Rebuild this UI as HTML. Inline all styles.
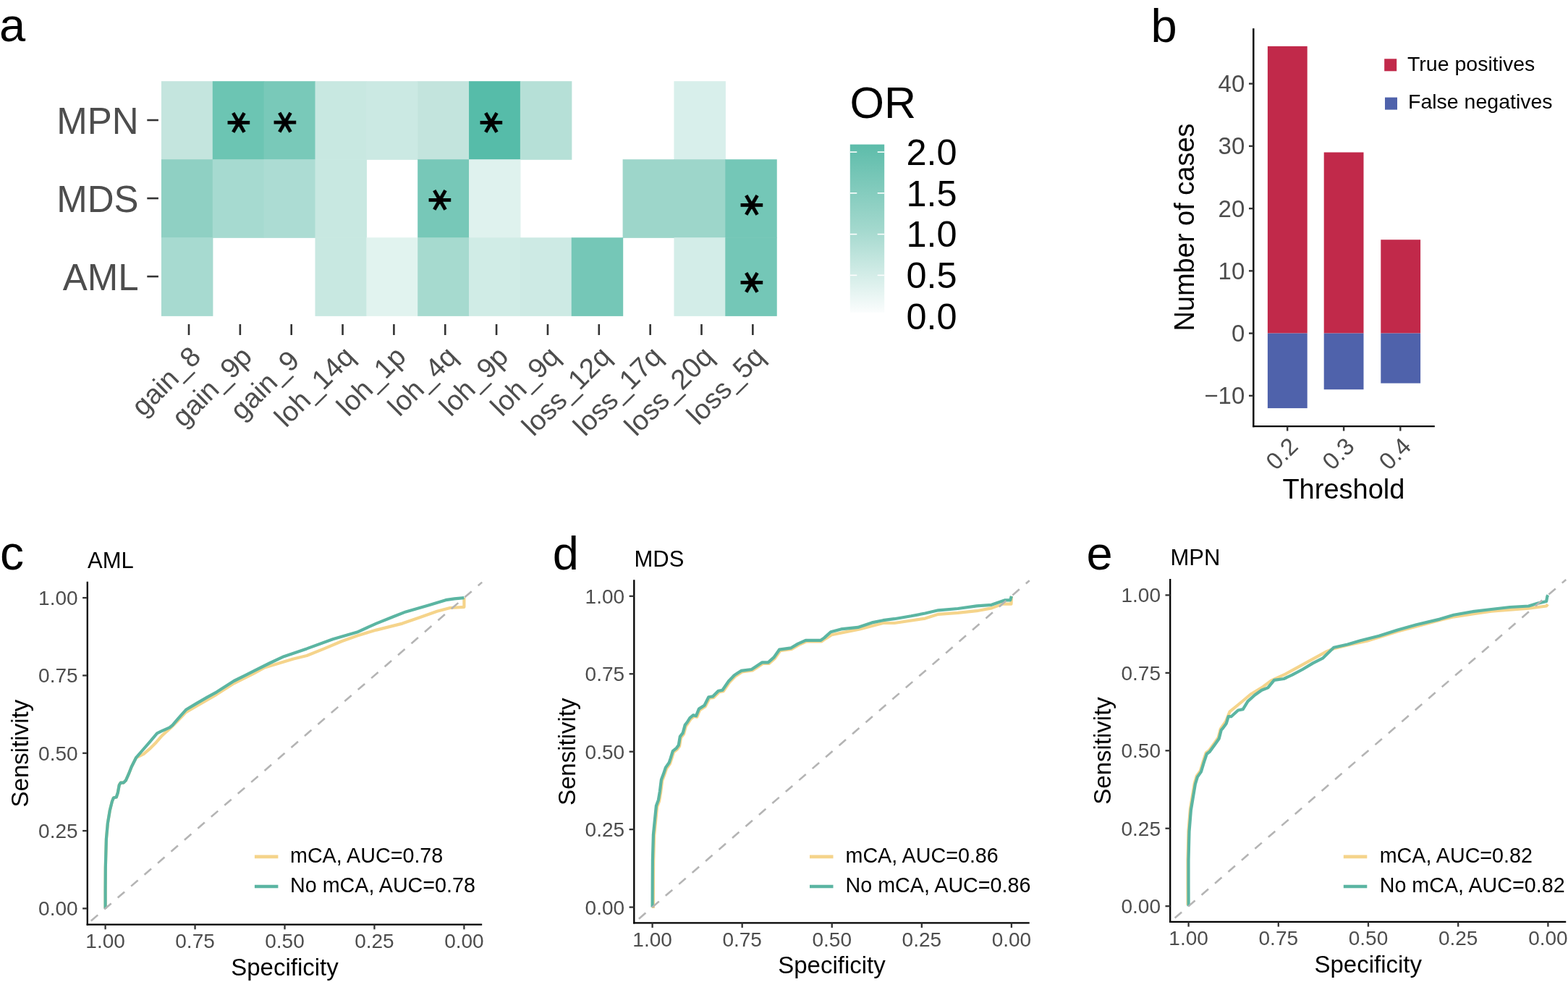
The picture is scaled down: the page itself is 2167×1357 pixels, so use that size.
<!DOCTYPE html>
<html><head><meta charset="utf-8"><title>Figure</title>
<style>html,body{margin:0;padding:0;background:#fff;} svg{display:block;}</style>
</head><body>
<svg width="2167" height="1357" viewBox="0 0 2167 1357" font-family='"Liberation Sans", Arial, Helvetica, sans-serif'><text x="-1.00" y="57.20" font-size="65" fill="#000" text-anchor="start" >a</text>
<rect x="222.95" y="112.20" width="71.45" height="108.63" fill="#c4e5de" />
<rect x="293.80" y="112.20" width="71.45" height="108.63" fill="#6cc5b3" />
<rect x="364.65" y="112.20" width="71.45" height="108.63" fill="#79c9b9" />
<rect x="435.50" y="112.20" width="71.45" height="108.63" fill="#c8e8e1" />
<rect x="506.35" y="112.20" width="71.45" height="108.63" fill="#cbe9e3" />
<rect x="577.20" y="112.20" width="71.45" height="108.63" fill="#c3e4dd" />
<rect x="648.05" y="112.20" width="71.45" height="108.63" fill="#56bca9" />
<rect x="718.90" y="112.20" width="71.45" height="108.63" fill="#b6e0d7" />
<rect x="931.45" y="112.20" width="71.45" height="108.63" fill="#d8efeb" />
<rect x="222.95" y="220.23" width="71.45" height="108.63" fill="#8fd0c3" />
<rect x="293.80" y="220.23" width="71.45" height="108.63" fill="#a6dad0" />
<rect x="364.65" y="220.23" width="71.45" height="108.63" fill="#acdcd3" />
<rect x="435.50" y="220.23" width="71.45" height="108.63" fill="#c8e8e1" />
<rect x="577.20" y="220.23" width="71.45" height="108.63" fill="#77c8b8" />
<rect x="648.05" y="220.23" width="71.45" height="108.63" fill="#dff2ee" />
<rect x="860.60" y="220.23" width="71.45" height="108.63" fill="#9dd6ca" />
<rect x="931.45" y="220.23" width="71.45" height="108.63" fill="#9dd6ca" />
<rect x="1002.30" y="220.23" width="71.45" height="108.63" fill="#74c7b7" />
<rect x="222.95" y="328.26" width="71.45" height="108.63" fill="#a7dad0" />
<rect x="435.50" y="328.26" width="71.45" height="108.63" fill="#c8e8e1" />
<rect x="506.35" y="328.26" width="71.45" height="108.63" fill="#e1f3ef" />
<rect x="577.20" y="328.26" width="71.45" height="108.63" fill="#a6dacf" />
<rect x="648.05" y="328.26" width="71.45" height="108.63" fill="#d0ece6" />
<rect x="718.90" y="328.26" width="71.45" height="108.63" fill="#cdeae4" />
<rect x="789.75" y="328.26" width="71.45" height="108.63" fill="#75c7b7" />
<rect x="931.45" y="328.26" width="71.45" height="108.63" fill="#d3ede8" />
<rect x="1002.30" y="328.26" width="71.45" height="108.63" fill="#74c7b7" />
<text x="0" y="0" font-family="DejaVu Sans" font-size="47.5" fill="#000" stroke="#000" stroke-width="0.9" stroke-linejoin="miter" text-anchor="middle" transform="translate(314.80,169.40) rotate(90)">&#8727;</text>
<text x="0" y="0" font-family="DejaVu Sans" font-size="47.5" fill="#000" stroke="#000" stroke-width="0.9" stroke-linejoin="miter" text-anchor="middle" transform="translate(379.30,169.20) rotate(90)">&#8727;</text>
<text x="0" y="0" font-family="DejaVu Sans" font-size="47.5" fill="#000" stroke="#000" stroke-width="0.9" stroke-linejoin="miter" text-anchor="middle" transform="translate(664.30,169.50) rotate(90)">&#8727;</text>
<text x="0" y="0" font-family="DejaVu Sans" font-size="47.5" fill="#000" stroke="#000" stroke-width="0.9" stroke-linejoin="miter" text-anchor="middle" transform="translate(593.40,276.30) rotate(90)">&#8727;</text>
<text x="0" y="0" font-family="DejaVu Sans" font-size="47.5" fill="#000" stroke="#000" stroke-width="0.9" stroke-linejoin="miter" text-anchor="middle" transform="translate(1023.70,283.50) rotate(90)">&#8727;</text>
<text x="0" y="0" font-family="DejaVu Sans" font-size="47.5" fill="#000" stroke="#000" stroke-width="0.9" stroke-linejoin="miter" text-anchor="middle" transform="translate(1023.70,390.40) rotate(90)">&#8727;</text>
<text x="191.50" y="184.71" font-size="51" fill="#4d4d4d" text-anchor="end" >MPN</text>
<line x1="203.30" y1="166.01" x2="218.90" y2="166.01" stroke="#333333" stroke-width="2.6" />
<text x="191.50" y="292.75" font-size="51" fill="#4d4d4d" text-anchor="end" >MDS</text>
<line x1="203.30" y1="274.05" x2="218.90" y2="274.05" stroke="#333333" stroke-width="2.6" />
<text x="191.50" y="400.77" font-size="51" fill="#4d4d4d" text-anchor="end" >AML</text>
<line x1="203.30" y1="382.07" x2="218.90" y2="382.07" stroke="#333333" stroke-width="2.6" />
<line x1="261.00" y1="448.00" x2="261.00" y2="463.00" stroke="#333333" stroke-width="2.6" />
<text x="0" y="0" font-size="38.6" fill="#4d4d4d" text-anchor="end" transform="translate(279.70,495.0) rotate(-45)">gain_8</text>
<line x1="331.85" y1="448.00" x2="331.85" y2="463.00" stroke="#333333" stroke-width="2.6" />
<text x="0" y="0" font-size="38.6" fill="#4d4d4d" text-anchor="end" transform="translate(350.55,495.0) rotate(-45)">gain_9p</text>
<line x1="402.70" y1="448.00" x2="402.70" y2="463.00" stroke="#333333" stroke-width="2.6" />
<text x="0" y="0" font-size="38.6" fill="#4d4d4d" text-anchor="end" transform="translate(415.90,500.5) rotate(-45)">gain_9</text>
<line x1="473.55" y1="448.00" x2="473.55" y2="463.00" stroke="#333333" stroke-width="2.6" />
<text x="0" y="0" font-size="38.6" fill="#4d4d4d" text-anchor="end" transform="translate(492.25,495.0) rotate(-45)">loh_14q</text>
<line x1="544.40" y1="448.00" x2="544.40" y2="463.00" stroke="#333333" stroke-width="2.6" />
<text x="0" y="0" font-size="38.6" fill="#4d4d4d" text-anchor="end" transform="translate(563.10,495.0) rotate(-45)">loh_1p</text>
<line x1="615.25" y1="448.00" x2="615.25" y2="463.00" stroke="#333333" stroke-width="2.6" />
<text x="0" y="0" font-size="38.6" fill="#4d4d4d" text-anchor="end" transform="translate(633.95,495.0) rotate(-45)">loh_4q</text>
<line x1="686.10" y1="448.00" x2="686.10" y2="463.00" stroke="#333333" stroke-width="2.6" />
<text x="0" y="0" font-size="38.6" fill="#4d4d4d" text-anchor="end" transform="translate(704.80,495.0) rotate(-45)">loh_9p</text>
<line x1="756.95" y1="448.00" x2="756.95" y2="463.00" stroke="#333333" stroke-width="2.6" />
<text x="0" y="0" font-size="38.6" fill="#4d4d4d" text-anchor="end" transform="translate(775.65,495.0) rotate(-45)">loh_9q</text>
<line x1="827.80" y1="448.00" x2="827.80" y2="463.00" stroke="#333333" stroke-width="2.6" />
<text x="0" y="0" font-size="38.6" fill="#4d4d4d" text-anchor="end" transform="translate(846.50,495.0) rotate(-45)">loss_12q</text>
<line x1="898.65" y1="448.00" x2="898.65" y2="463.00" stroke="#333333" stroke-width="2.6" />
<text x="0" y="0" font-size="38.6" fill="#4d4d4d" text-anchor="end" transform="translate(917.35,495.0) rotate(-45)">loss_17q</text>
<line x1="969.50" y1="448.00" x2="969.50" y2="463.00" stroke="#333333" stroke-width="2.6" />
<text x="0" y="0" font-size="38.6" fill="#4d4d4d" text-anchor="end" transform="translate(988.20,495.0) rotate(-45)">loss_20q</text>
<line x1="1040.35" y1="448.00" x2="1040.35" y2="463.00" stroke="#333333" stroke-width="2.6" />
<text x="0" y="0" font-size="38.6" fill="#4d4d4d" text-anchor="end" transform="translate(1059.05,495.0) rotate(-45)">loss_5q</text>
<text x="1174.50" y="162.60" font-size="61" fill="#000" text-anchor="start" >OR</text>
<defs><linearGradient id="cb" x1="0" y1="0" x2="0" y2="1"><stop offset="0" stop-color="#5dbcaa"/><stop offset="0.5" stop-color="#a2d8cd"/><stop offset="1" stop-color="#fbfdfd"/></linearGradient></defs>
<rect x="1174.80" y="199.60" width="47.40" height="232.40" fill="url(#cb)" />
<line x1="1174.80" y1="210.10" x2="1184.30" y2="210.10" stroke="#ffffff" stroke-width="1.6" />
<line x1="1212.70" y1="210.10" x2="1222.20" y2="210.10" stroke="#ffffff" stroke-width="1.6" />
<text x="1252.40" y="227.80" font-size="50.5" fill="#000" text-anchor="start" >2.0</text>
<line x1="1174.80" y1="266.87" x2="1184.30" y2="266.87" stroke="#ffffff" stroke-width="1.6" />
<line x1="1212.70" y1="266.87" x2="1222.20" y2="266.87" stroke="#ffffff" stroke-width="1.6" />
<text x="1252.40" y="284.57" font-size="50.5" fill="#000" text-anchor="start" >1.5</text>
<line x1="1174.80" y1="323.64" x2="1184.30" y2="323.64" stroke="#ffffff" stroke-width="1.6" />
<line x1="1212.70" y1="323.64" x2="1222.20" y2="323.64" stroke="#ffffff" stroke-width="1.6" />
<text x="1252.40" y="341.34" font-size="50.5" fill="#000" text-anchor="start" >1.0</text>
<line x1="1174.80" y1="380.41" x2="1184.30" y2="380.41" stroke="#ffffff" stroke-width="1.6" />
<line x1="1212.70" y1="380.41" x2="1222.20" y2="380.41" stroke="#ffffff" stroke-width="1.6" />
<text x="1252.40" y="398.11" font-size="50.5" fill="#000" text-anchor="start" >0.5</text>
<text x="1252.40" y="454.88" font-size="50.5" fill="#000" text-anchor="start" >0.0</text>
<text x="1590.60" y="57.50" font-size="65" fill="#000" text-anchor="start" >b</text>
<rect x="1751.90" y="63.90" width="54.80" height="396.70" fill="#c1294a" />
<rect x="1751.90" y="460.60" width="54.80" height="103.49" fill="#4f62ab" />
<rect x="1829.70" y="210.50" width="54.80" height="250.10" fill="#c1294a" />
<rect x="1829.70" y="460.60" width="54.80" height="77.62" fill="#4f62ab" />
<rect x="1908.30" y="331.24" width="54.80" height="129.36" fill="#c1294a" />
<rect x="1908.30" y="460.60" width="54.80" height="68.99" fill="#4f62ab" />
<line x1="1732.30" y1="39.30" x2="1732.30" y2="590.20" stroke="#000" stroke-width="2.4" />
<line x1="1731.10" y1="589.10" x2="1982.80" y2="589.10" stroke="#000" stroke-width="2.4" />
<line x1="1726.00" y1="115.64" x2="1732.30" y2="115.64" stroke="#333333" stroke-width="2.4" />
<text x="1720.30" y="127.24" font-size="33" fill="#4d4d4d" text-anchor="end" >40</text>
<line x1="1726.00" y1="201.88" x2="1732.30" y2="201.88" stroke="#333333" stroke-width="2.4" />
<text x="1720.30" y="213.48" font-size="33" fill="#4d4d4d" text-anchor="end" >30</text>
<line x1="1726.00" y1="288.12" x2="1732.30" y2="288.12" stroke="#333333" stroke-width="2.4" />
<text x="1720.30" y="299.72" font-size="33" fill="#4d4d4d" text-anchor="end" >20</text>
<line x1="1726.00" y1="374.36" x2="1732.30" y2="374.36" stroke="#333333" stroke-width="2.4" />
<text x="1720.30" y="385.96" font-size="33" fill="#4d4d4d" text-anchor="end" >10</text>
<line x1="1726.00" y1="460.60" x2="1732.30" y2="460.60" stroke="#333333" stroke-width="2.4" />
<text x="1720.30" y="472.20" font-size="33" fill="#4d4d4d" text-anchor="end" >0</text>
<line x1="1726.00" y1="546.84" x2="1732.30" y2="546.84" stroke="#333333" stroke-width="2.4" />
<text x="1720.30" y="558.44" font-size="33" fill="#4d4d4d" text-anchor="end" >&#8722;10</text>
<line x1="1779.20" y1="589.10" x2="1779.20" y2="595.50" stroke="#333333" stroke-width="2.4" />
<text x="0" y="0" font-size="33" fill="#4d4d4d" text-anchor="end" transform="translate(1779.00,602) rotate(-45)" dy="0.72em">0.2</text>
<line x1="1857.10" y1="589.10" x2="1857.10" y2="595.50" stroke="#333333" stroke-width="2.4" />
<text x="0" y="0" font-size="33" fill="#4d4d4d" text-anchor="end" transform="translate(1856.90,602) rotate(-45)" dy="0.72em">0.3</text>
<line x1="1935.30" y1="589.10" x2="1935.30" y2="595.50" stroke="#333333" stroke-width="2.4" />
<text x="0" y="0" font-size="33" fill="#4d4d4d" text-anchor="end" transform="translate(1935.10,602) rotate(-45)" dy="0.72em">0.4</text>
<text x="1856.90" y="689.00" font-size="38" fill="#000" text-anchor="middle" >Threshold</text>
<text x="0" y="0" font-size="38" fill="#000" text-anchor="middle" transform="translate(1649.6,314) rotate(-90)">Number of cases</text>
<rect x="1913.20" y="81.30" width="17.00" height="17.00" fill="#c1294a" />
<rect x="1914.00" y="134.60" width="17.00" height="17.00" fill="#4f62ab" />
<text x="1945.00" y="97.50" font-size="28.5" fill="#000" text-anchor="start" >True positives</text>
<text x="1946.00" y="150.30" font-size="28.5" fill="#000" text-anchor="start" >False negatives</text>
<text x="-0.10" y="787.20" font-size="66" fill="#000" text-anchor="start" >c</text>
<text x="121.00" y="785.00" font-size="31" fill="#000" text-anchor="start" >AML</text>
<path d="M145.6,1255.4 L145.6,1230.0 L145.8,1199.0 L146.9,1159.2 L148.9,1137.3 L151.9,1119.4 L154.9,1107.5 L156.9,1102.5 L160.8,1101.5 L162.8,1095.5 L164.8,1084.6 L166.8,1081.6 L170.8,1081.6 L173.8,1078.6 L177.8,1069.7 L181.7,1059.7 L188.0,1047.2 L198.6,1041.9 L206.5,1035.2 L214.5,1027.3 L223.8,1016.6 L235.7,1006.0 L246.3,995.4 L257.0,984.1 L272.9,974.9 L299.4,959.6 L323.3,944.3 L349.8,931.1 L365.7,922.5 L385.6,916.5 L405.5,910.5 L424.0,906.0 L448.0,896.4 L472.0,886.2 L493.6,878.4 L520.0,870.6 L556.0,861.6 L580.0,853.2 L604.0,844.8 L622.0,840.0 L641.4,838.8 L641.4,826.1" fill="none" stroke="#f5d48b" stroke-width="4.2" stroke-linejoin="round"/>
<path d="M145.6,1255.4 L145.6,1230.0 L145.8,1199.0 L146.9,1159.2 L148.9,1137.3 L151.9,1119.4 L154.9,1107.5 L156.9,1102.5 L160.8,1101.5 L162.8,1095.5 L164.8,1084.6 L166.8,1081.6 L170.8,1081.6 L173.8,1078.6 L177.8,1069.7 L181.7,1059.7 L188.0,1047.2 L197.2,1036.5 L206.5,1025.9 L217.1,1013.3 L222.5,1010.7 L234.4,1005.4 L238.4,1002.1 L246.3,992.8 L257.0,980.8 L270.2,972.9 L286.1,963.6 L299.4,956.3 L323.3,941.0 L339.2,933.1 L352.5,926.4 L372.4,916.5 L392.3,907.2 L424.0,896.4 L460.0,883.2 L493.6,873.6 L520.0,861.6 L544.0,852.0 L560.8,845.4 L592.0,836.4 L616.0,829.2 L628.0,827.4 L641.4,826.1" fill="none" stroke="#5bb5a2" stroke-width="4.2" stroke-linejoin="round"/>
<line x1="120.81" y1="1276.87" x2="666.19" y2="804.63" stroke="#b4b4b4" stroke-width="2.6" stroke-dasharray="12.5 11.9" stroke-dashoffset="17.8"/>
<line x1="120.80" y1="803.63" x2="120.80" y2="1278.70" stroke="#000" stroke-width="2.3" />
<line x1="119.70" y1="1277.60" x2="666.19" y2="1277.60" stroke="#000" stroke-width="2.3" />
<line x1="114.10" y1="1255.40" x2="120.80" y2="1255.40" stroke="#333333" stroke-width="2.3" />
<text x="107.60" y="1265.40" font-size="28" fill="#4d4d4d" text-anchor="end" >0.00</text>
<line x1="641.40" y1="1277.60" x2="641.40" y2="1284.30" stroke="#333333" stroke-width="2.3" />
<text x="641.40" y="1309.90" font-size="28" fill="#4d4d4d" text-anchor="middle" >0.00</text>
<line x1="114.10" y1="1148.08" x2="120.80" y2="1148.08" stroke="#333333" stroke-width="2.3" />
<text x="107.60" y="1158.08" font-size="28" fill="#4d4d4d" text-anchor="end" >0.25</text>
<line x1="517.45" y1="1277.60" x2="517.45" y2="1284.30" stroke="#333333" stroke-width="2.3" />
<text x="517.45" y="1309.90" font-size="28" fill="#4d4d4d" text-anchor="middle" >0.25</text>
<line x1="114.10" y1="1040.75" x2="120.80" y2="1040.75" stroke="#333333" stroke-width="2.3" />
<text x="107.60" y="1050.75" font-size="28" fill="#4d4d4d" text-anchor="end" >0.50</text>
<line x1="393.50" y1="1277.60" x2="393.50" y2="1284.30" stroke="#333333" stroke-width="2.3" />
<text x="393.50" y="1309.90" font-size="28" fill="#4d4d4d" text-anchor="middle" >0.50</text>
<line x1="114.10" y1="933.43" x2="120.80" y2="933.43" stroke="#333333" stroke-width="2.3" />
<text x="107.60" y="943.43" font-size="28" fill="#4d4d4d" text-anchor="end" >0.75</text>
<line x1="269.55" y1="1277.60" x2="269.55" y2="1284.30" stroke="#333333" stroke-width="2.3" />
<text x="269.55" y="1309.90" font-size="28" fill="#4d4d4d" text-anchor="middle" >0.75</text>
<line x1="114.10" y1="826.10" x2="120.80" y2="826.10" stroke="#333333" stroke-width="2.3" />
<text x="107.60" y="836.10" font-size="28" fill="#4d4d4d" text-anchor="end" >1.00</text>
<line x1="145.60" y1="1277.60" x2="145.60" y2="1284.30" stroke="#333333" stroke-width="2.3" />
<text x="145.60" y="1309.90" font-size="28" fill="#4d4d4d" text-anchor="middle" >1.00</text>
<text x="393.49" y="1347.60" font-size="33" fill="#000" text-anchor="middle" >Specificity</text>
<text x="0" y="0" font-size="33" fill="#000" text-anchor="middle" transform="translate(39.0,1041.1174999999998) rotate(-90)">Sensitivity</text>
<line x1="351.90" y1="1183.90" x2="384.40" y2="1183.90" stroke="#f5d48b" stroke-width="4.6" />
<line x1="351.90" y1="1225.00" x2="384.40" y2="1225.00" stroke="#5bb5a2" stroke-width="4.6" />
<text x="401.00" y="1192.00" font-size="28.7" fill="#000" text-anchor="start" >mCA, AUC=0.78</text>
<text x="401.00" y="1232.60" font-size="28.7" fill="#000" text-anchor="start" >No mCA, AUC=0.78</text>
<text x="763.70" y="787.00" font-size="65" fill="#000" text-anchor="start" >d</text>
<text x="876.50" y="782.70" font-size="31" fill="#000" text-anchor="start" >MDS</text>
<path d="M902.8,1255.1 L902.9,1221.5 L903.1,1190.5 L904.1,1154.7 L906.1,1134.8 L908.1,1114.9 L911.1,1106.9 L913.1,1095.0 L915.1,1079.1 L918.1,1071.1 L921.1,1062.1 L926.0,1055.2 L928.0,1049.2 L931.0,1039.3 L936.0,1035.3 L939.0,1031.3 L941.0,1019.4 L944.9,1014.4 L947.9,1003.4 L950.9,999.5 L954.6,993.6 L959.4,989.7 L963.2,990.7 L967.1,981.1 L974.7,976.3 L980.5,964.8 L986.2,963.9 L993.9,956.2 L999.6,955.3 L1008.2,942.8 L1015.9,934.7 L1025.5,928.4 L1039.9,926.5 L1045.6,922.7 L1054.2,916.9 L1062.8,916.9 L1070.5,910.2 L1078.2,899.2 L1094.5,896.8 L1104.0,891.1 L1114.6,886.3 L1135.6,886.3 L1140.4,882.9 L1149.4,877.2 L1188.1,869.4 L1220.5,861.0 L1236.0,861.0 L1278.6,854.6 L1296.7,848.8 L1323.8,846.8 L1349.7,844.2 L1370.3,840.4 L1385.9,834.6 L1397.5,834.6 L1397.9,823.8" fill="none" stroke="#f5d48b" stroke-width="4.2" stroke-linejoin="round"/>
<path d="M901.6,1253.6 L901.7,1220.0 L901.9,1189.0 L902.9,1153.2 L904.9,1133.3 L906.9,1113.4 L909.9,1105.4 L911.9,1093.5 L913.9,1077.6 L916.9,1069.6 L919.9,1060.6 L924.8,1053.7 L926.8,1047.7 L929.8,1037.8 L934.8,1033.8 L937.8,1029.8 L939.8,1017.9 L943.7,1012.9 L946.7,1001.9 L949.7,998.0 L953.4,992.1 L958.2,988.2 L962.0,989.2 L965.9,979.6 L973.5,974.8 L979.3,963.3 L985.0,962.4 L992.7,954.7 L998.4,953.8 L1007.0,941.3 L1014.7,933.2 L1024.3,926.9 L1038.7,925.0 L1044.4,921.2 L1053.0,915.4 L1061.6,915.4 L1069.3,908.7 L1077.0,897.7 L1093.3,895.3 L1102.8,889.6 L1113.4,884.8 L1134.4,884.8 L1139.2,881.4 L1148.1,873.3 L1162.3,869.4 L1185.6,866.9 L1205.0,860.4 L1220.5,857.2 L1236.0,855.2 L1259.2,851.3 L1278.6,847.5 L1296.7,843.3 L1323.8,841.0 L1349.7,837.4 L1370.3,835.8 L1388.4,829.4 L1396.2,829.4 L1397.9,823.8" fill="none" stroke="#5bb5a2" stroke-width="4.2" stroke-linejoin="round"/>
<line x1="876.78" y1="1275.09" x2="1422.72" y2="802.31" stroke="#b4b4b4" stroke-width="2.6" stroke-dasharray="12.5 11.9" stroke-dashoffset="16.3"/>
<line x1="876.30" y1="801.31" x2="876.30" y2="1276.40" stroke="#000" stroke-width="2.3" />
<line x1="875.20" y1="1275.30" x2="1422.72" y2="1275.30" stroke="#000" stroke-width="2.3" />
<line x1="869.60" y1="1253.60" x2="876.30" y2="1253.60" stroke="#333333" stroke-width="2.3" />
<text x="863.10" y="1263.60" font-size="28" fill="#4d4d4d" text-anchor="end" >0.00</text>
<line x1="1397.90" y1="1275.30" x2="1397.90" y2="1282.00" stroke="#333333" stroke-width="2.3" />
<text x="1397.90" y="1307.60" font-size="28" fill="#4d4d4d" text-anchor="middle" >0.00</text>
<line x1="869.60" y1="1146.15" x2="876.30" y2="1146.15" stroke="#333333" stroke-width="2.3" />
<text x="863.10" y="1156.15" font-size="28" fill="#4d4d4d" text-anchor="end" >0.25</text>
<line x1="1273.83" y1="1275.30" x2="1273.83" y2="1282.00" stroke="#333333" stroke-width="2.3" />
<text x="1273.83" y="1307.60" font-size="28" fill="#4d4d4d" text-anchor="middle" >0.25</text>
<line x1="869.60" y1="1038.70" x2="876.30" y2="1038.70" stroke="#333333" stroke-width="2.3" />
<text x="863.10" y="1048.70" font-size="28" fill="#4d4d4d" text-anchor="end" >0.50</text>
<line x1="1149.75" y1="1275.30" x2="1149.75" y2="1282.00" stroke="#333333" stroke-width="2.3" />
<text x="1149.75" y="1307.60" font-size="28" fill="#4d4d4d" text-anchor="middle" >0.50</text>
<line x1="869.60" y1="931.25" x2="876.30" y2="931.25" stroke="#333333" stroke-width="2.3" />
<text x="863.10" y="941.25" font-size="28" fill="#4d4d4d" text-anchor="end" >0.75</text>
<line x1="1025.68" y1="1275.30" x2="1025.68" y2="1282.00" stroke="#333333" stroke-width="2.3" />
<text x="1025.68" y="1307.60" font-size="28" fill="#4d4d4d" text-anchor="middle" >0.75</text>
<line x1="869.60" y1="823.80" x2="876.30" y2="823.80" stroke="#333333" stroke-width="2.3" />
<text x="863.10" y="833.80" font-size="28" fill="#4d4d4d" text-anchor="end" >1.00</text>
<line x1="901.60" y1="1275.30" x2="901.60" y2="1282.00" stroke="#333333" stroke-width="2.3" />
<text x="901.60" y="1307.60" font-size="28" fill="#4d4d4d" text-anchor="middle" >1.00</text>
<text x="1149.51" y="1345.30" font-size="33" fill="#000" text-anchor="middle" >Specificity</text>
<text x="0" y="0" font-size="33" fill="#000" text-anchor="middle" transform="translate(794.5,1038.8049999999998) rotate(-90)">Sensitivity</text>
<line x1="1119.00" y1="1183.90" x2="1151.50" y2="1183.90" stroke="#f5d48b" stroke-width="4.6" />
<line x1="1119.00" y1="1225.00" x2="1151.50" y2="1225.00" stroke="#5bb5a2" stroke-width="4.6" />
<text x="1168.50" y="1192.00" font-size="28.7" fill="#000" text-anchor="start" >mCA, AUC=0.86</text>
<text x="1168.50" y="1232.60" font-size="28.7" fill="#000" text-anchor="start" >No mCA, AUC=0.86</text>
<text x="1501.60" y="787.20" font-size="65" fill="#000" text-anchor="start" >e</text>
<text x="1617.40" y="781.30" font-size="31" fill="#000" text-anchor="start" >MPN</text>
<path d="M1641.6,1250.7 L1641.5,1218.5 L1641.5,1187.5 L1642.5,1147.7 L1644.9,1117.9 L1647.9,1099.9 L1650.9,1082.0 L1653.9,1072.1 L1658.9,1065.1 L1662.8,1052.2 L1666.8,1040.2 L1670.8,1037.3 L1678.8,1026.3 L1683.7,1019.3 L1686.7,1007.4 L1694.0,997.0 L1699.6,983.4 L1715.9,970.0 L1728.3,959.5 L1745.6,949.0 L1757.0,940.3 L1776.2,931.7 L1795.4,921.2 L1814.5,910.7 L1833.7,900.1 L1843.3,896.3 L1862.4,891.5 L1889.2,885.7 L1931.7,872.4 L1989.8,856.9 L2009.2,852.3 L2060.9,844.6 L2112.6,840.7 L2137.1,837.5 L2139.0,834.9" fill="none" stroke="#f5d48b" stroke-width="4.2" stroke-linejoin="round"/>
<path d="M1642.6,1252.2 L1642.5,1220.0 L1642.5,1189.0 L1643.5,1149.2 L1645.9,1119.4 L1648.9,1101.4 L1651.9,1083.5 L1654.9,1073.6 L1659.9,1066.6 L1663.8,1053.7 L1667.8,1041.7 L1671.8,1038.8 L1679.8,1027.8 L1684.7,1020.8 L1687.7,1008.9 L1690.0,1006.4 L1694.8,999.7 L1697.7,990.2 L1701.5,990.2 L1711.1,981.5 L1717.8,980.1 L1724.5,969.1 L1734.1,960.5 L1743.6,953.8 L1752.3,950.4 L1760.9,939.9 L1774.3,938.0 L1785.8,932.7 L1800.2,925.0 L1814.5,916.4 L1827.9,909.7 L1843.3,894.8 L1862.4,890.5 L1880.0,885.3 L1905.8,878.8 L1931.7,870.4 L1957.5,863.3 L1989.8,855.6 L2009.2,849.7 L2035.1,845.2 L2060.9,842.0 L2086.7,839.0 L2112.6,837.5 L2125.5,833.6 L2137.1,831.0 L2138.4,823.9 L2139.4,822.4" fill="none" stroke="#5bb5a2" stroke-width="4.2" stroke-linejoin="round"/>
<line x1="1617.76" y1="1273.69" x2="2164.24" y2="800.91" stroke="#b4b4b4" stroke-width="2.6" stroke-dasharray="12.5 11.9" stroke-dashoffset="16.6"/>
<line x1="1617.20" y1="799.91" x2="1617.20" y2="1275.00" stroke="#000" stroke-width="2.3" />
<line x1="1616.10" y1="1273.90" x2="2164.24" y2="1273.90" stroke="#000" stroke-width="2.3" />
<line x1="1610.50" y1="1252.20" x2="1617.20" y2="1252.20" stroke="#333333" stroke-width="2.3" />
<text x="1604.00" y="1262.20" font-size="28" fill="#4d4d4d" text-anchor="end" >0.00</text>
<line x1="2139.40" y1="1273.90" x2="2139.40" y2="1280.60" stroke="#333333" stroke-width="2.3" />
<text x="2139.40" y="1306.20" font-size="28" fill="#4d4d4d" text-anchor="middle" >0.00</text>
<line x1="1610.50" y1="1144.75" x2="1617.20" y2="1144.75" stroke="#333333" stroke-width="2.3" />
<text x="1604.00" y="1154.75" font-size="28" fill="#4d4d4d" text-anchor="end" >0.25</text>
<line x1="2015.20" y1="1273.90" x2="2015.20" y2="1280.60" stroke="#333333" stroke-width="2.3" />
<text x="2015.20" y="1306.20" font-size="28" fill="#4d4d4d" text-anchor="middle" >0.25</text>
<line x1="1610.50" y1="1037.30" x2="1617.20" y2="1037.30" stroke="#333333" stroke-width="2.3" />
<text x="1604.00" y="1047.30" font-size="28" fill="#4d4d4d" text-anchor="end" >0.50</text>
<line x1="1891.00" y1="1273.90" x2="1891.00" y2="1280.60" stroke="#333333" stroke-width="2.3" />
<text x="1891.00" y="1306.20" font-size="28" fill="#4d4d4d" text-anchor="middle" >0.50</text>
<line x1="1610.50" y1="929.85" x2="1617.20" y2="929.85" stroke="#333333" stroke-width="2.3" />
<text x="1604.00" y="939.85" font-size="28" fill="#4d4d4d" text-anchor="end" >0.75</text>
<line x1="1766.80" y1="1273.90" x2="1766.80" y2="1280.60" stroke="#333333" stroke-width="2.3" />
<text x="1766.80" y="1306.20" font-size="28" fill="#4d4d4d" text-anchor="middle" >0.75</text>
<line x1="1610.50" y1="822.40" x2="1617.20" y2="822.40" stroke="#333333" stroke-width="2.3" />
<text x="1604.00" y="832.40" font-size="28" fill="#4d4d4d" text-anchor="end" >1.00</text>
<line x1="1642.60" y1="1273.90" x2="1642.60" y2="1280.60" stroke="#333333" stroke-width="2.3" />
<text x="1642.60" y="1306.20" font-size="28" fill="#4d4d4d" text-anchor="middle" >1.00</text>
<text x="1890.72" y="1343.90" font-size="33" fill="#000" text-anchor="middle" >Specificity</text>
<text x="0" y="0" font-size="33" fill="#000" text-anchor="middle" transform="translate(1535.4,1037.405) rotate(-90)">Sensitivity</text>
<line x1="1856.80" y1="1183.90" x2="1889.30" y2="1183.90" stroke="#f5d48b" stroke-width="4.6" />
<line x1="1856.80" y1="1225.00" x2="1889.30" y2="1225.00" stroke="#5bb5a2" stroke-width="4.6" />
<text x="1906.70" y="1192.00" font-size="28.7" fill="#000" text-anchor="start" >mCA, AUC=0.82</text>
<text x="1906.70" y="1232.60" font-size="28.7" fill="#000" text-anchor="start" >No mCA, AUC=0.82</text></svg>
</body></html>
